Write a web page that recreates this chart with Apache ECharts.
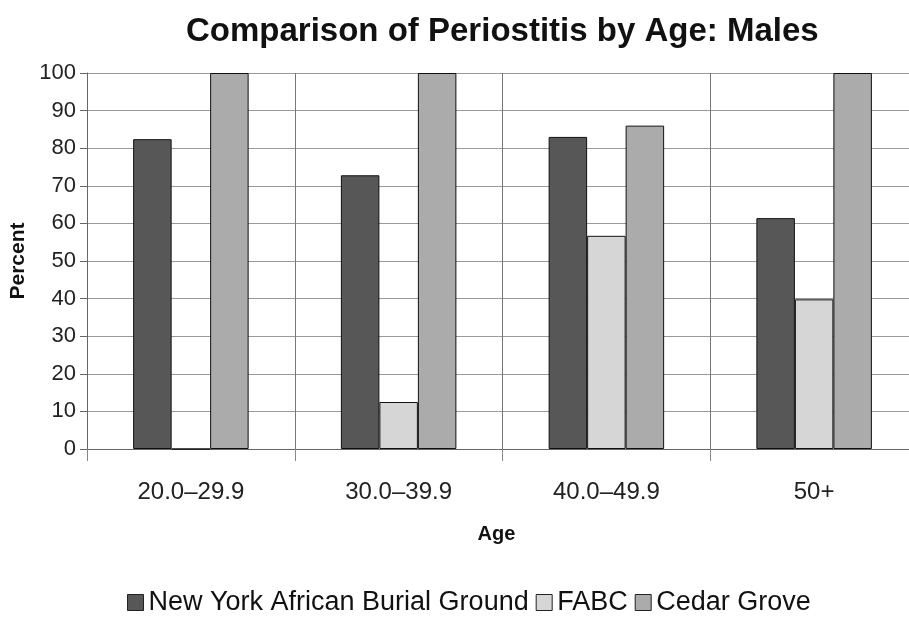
<!DOCTYPE html>
<html><head><meta charset="utf-8">
<script src="https://cdn.jsdelivr.net/npm/echarts@6/dist/echarts.min.js"></script>
<style>html,body{margin:0;padding:0;background:#fff;overflow:hidden}#c{width:909px;height:622px}</style>
</head><body><div id="c"></div>
<script>
const categories = ['20.0–29.9', '30.0–39.9', '40.0–49.9', '50+'];
const seriesNames = ['New York African Burial Ground', 'FABC', 'Cedar Grove'];
const nyabg = [82.4, 72.8, 83.0, 61.4];
const fabc = [0, 12.5, 56.7, 39.8];
const cedar = [100, 100, 86.0, 100];
const yTicks = [0, 10, 20, 30, 40, 50, 60, 70, 80, 90, 100];
const colors = ['#575757', '#d6d6d6', '#ababab'];

const font = 'Liberation Sans, Arial, sans-serif';
const chart = echarts.init(document.getElementById('c'));
const mk = (name, data, i) => ({
  name, type: 'bar', data, barWidth: 38.5, barGap: '0%',
  itemStyle: { color: colors[i], borderColor: '#111', borderWidth: 1 },
  emphasis: { disabled: true }
});
chart.setOption({
  animation: false,
  title: { text: 'Comparison of Periostitis by Age: Males', left: 181, top: 10,
    textStyle: { fontFamily: font, fontSize: 33, fontWeight: 'bold', color: '#111' } },
  legend: { bottom: 1, left: 122, itemWidth: 16, itemHeight: 16, itemGap: 7,
    icon: 'rect',
    textStyle: { fontFamily: font, fontSize: 27, color: '#111' },
    data: seriesNames.map((n, i) => ({ name: n, itemStyle: { borderColor: '#222', borderWidth: 1 } })) },
  grid: { left: 87, width: 831, top: 73, bottom: 173, outerBoundsMode: 'none', containLabel: false },
  xAxis: { type: 'category', data: categories, name: 'Age', nameLocation: 'middle', nameGap: 75,
    nameTextStyle: { fontFamily: font, fontSize: 20, fontWeight: 'bold', color: '#111', padding: [0, 12, 0, 0] },
    axisLine: { lineStyle: { color: '#666' } },
    axisTick: { show: true, length: 12, lineStyle: { color: '#888' } },
    axisLabel: { fontFamily: font, fontSize: 24, color: '#222', margin: 31 },
    splitLine: { show: true, lineStyle: { color: '#777', width: 1 } } },
  yAxis: { type: 'value', min: 0, max: 100, interval: 10, name: 'Percent', nameLocation: 'middle', nameGap: 45,
    nameTextStyle: { fontFamily: font, fontSize: 21, fontWeight: 'bold', color: '#111' },
    axisLine: { show: true, lineStyle: { color: '#666' } },
    axisTick: { show: true, length: 7, lineStyle: { color: '#666' } },
    axisLabel: { fontFamily: font, fontSize: 22, color: '#222', margin: 11,
      formatter: v => yTicks.includes(v) ? String(v) : '' },
    splitLine: { lineStyle: { color: '#999', width: 1 } } },
  series: [mk(seriesNames[0], nyabg, 0), mk(seriesNames[1], fabc, 1), mk(seriesNames[2], cedar, 2)]
});
</script></body></html>
